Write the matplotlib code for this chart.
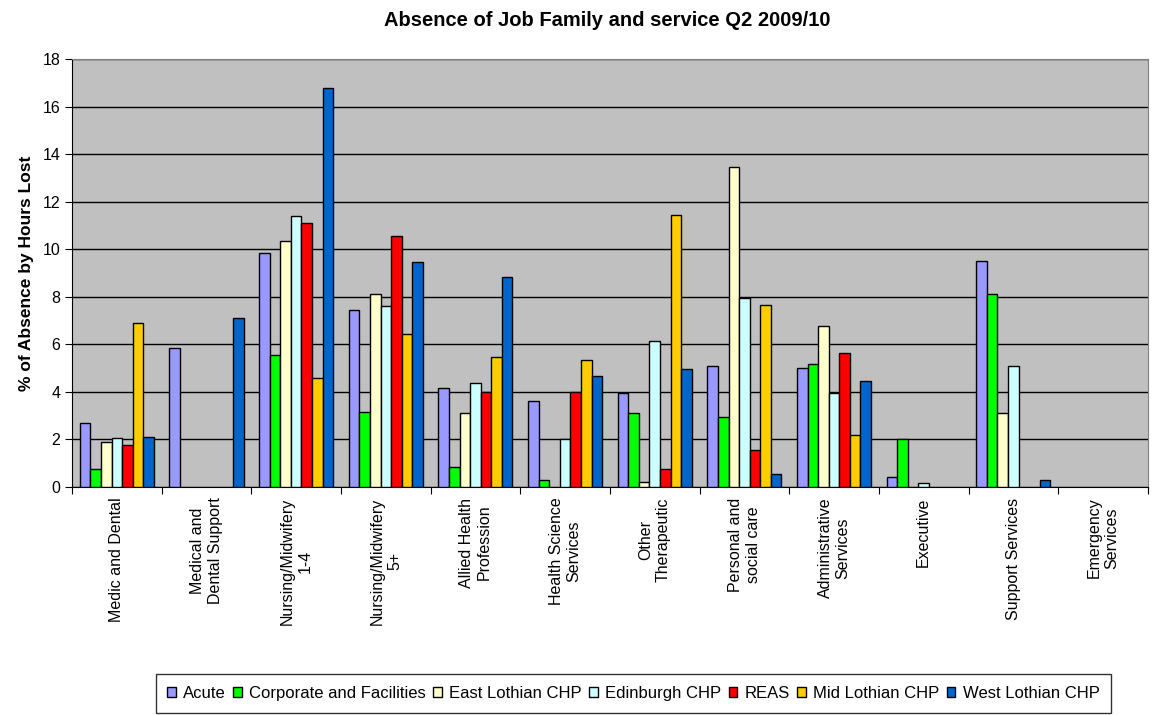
import matplotlib.pyplot as plt
import numpy as np

categories = ["Medic and Dental", "Medical and\nDental Support", "Nursing/Midwifery\n1-4",
              "Nursing/Midwifery\n5+", "Allied Health\nProfession", "Health Science\nServices",
              "Other\nTherapeutic", "Personal and\nsocial care", "Administrative\nServices",
              "Executive", "Support Services", "Emergency\nServices"]

acute = [2.7, 5.85, 9.85, 7.45, 4.15, 3.6, 3.95, 5.1, 5.0, 0.4, 9.5, 0]
corporate = [0.75, 0, 5.55, 3.15, 0.85, 0.3, 3.1, 2.95, 5.15, 2.0, 8.1, 0]
east_lothian = [1.9, 0, 10.35, 8.1, 3.1, 0, 0.2, 13.45, 6.75, 0, 3.1, 0]
edinburgh = [2.05, 0, 11.4, 7.6, 4.35, 2.0, 6.15, 7.95, 3.95, 0.15, 5.1, 0]
reas = [1.75, 0, 11.1, 10.55, 4.0, 4.0, 0.75, 1.55, 5.65, 0, 0, 0]
mid_lothian = [6.9, 0, 4.6, 6.45, 5.45, 5.35, 11.45, 7.65, 2.2, 0, 0, 0]
west_lothian = [2.1, 7.1, 16.8, 9.45, 8.85, 4.65, 4.95, 0.55, 4.45, 0, 0.3, 0]

series = [("Acute", acute, "#9999FF"),
          ("Corporate and Facilities", corporate, "#00FF00"),
          ("East Lothian CHP", east_lothian, "#FFFFCC"),
          ("Edinburgh CHP", edinburgh, "#CCFFFF"),
          ("REAS", reas, "#FF0000"),
          ("Mid Lothian CHP", mid_lothian, "#FFCC00"),
          ("West Lothian CHP", west_lothian, "#0066CC")]

plt.rcParams['font.family'] = ['Liberation Sans', 'DejaVu Sans']

fig = plt.figure(figsize=(11.58, 7.15), dpi=100)
ax = fig.add_axes([0.0622, 0.319, 0.929, 0.5985])
ax.set_facecolor("#C0C0C0")

x = np.arange(len(categories))
w = 0.118
for i, (name, vals, col) in enumerate(series):
    v = np.array(vals, dtype=float)
    mask = v > 0
    ax.bar(x[mask] + (i - 3) * w, v[mask], width=w, color=col,
           edgecolor="black", linewidth=1.0, label=name, zorder=3)

ax.set_xlim(-0.5, len(categories) - 0.5)
ax.set_ylim(0, 18)
ax.set_yticks(range(0, 19, 2))
ax.tick_params(axis='y', labelsize=11.5, length=5, direction='out')
ax.yaxis.grid(True, color="black", linewidth=1.0, zorder=1)

ax.set_xticks(np.arange(len(categories) + 1) - 0.5)
ax.set_xticklabels([])
ax.tick_params(axis='x', length=5, direction='out')
for xi, lab in zip(x, categories):
    ax.text(xi, -0.45, lab, rotation=90, ha='center', va='top', fontsize=11.5,
            multialignment='center')

for s in ["top", "right"]:
    ax.spines[s].set_color("#808080")
ax.spines["left"].set_color("black")
ax.spines["bottom"].set_color("black")

ax.set_ylabel("% of Absence by Hours Lost", fontsize=12.5, fontweight='bold', labelpad=6)
fig.suptitle("Absence of Job Family and service Q2 2009/10", fontsize=14.5,
             fontweight='bold', y=0.985, x=0.524)

leg = fig.legend(loc='upper center', bbox_to_anchor=(0.547, 0.057), ncol=7,
                 fontsize=12, frameon=True, fancybox=False, handlelength=0.5,
                 handleheight=0.5, handletextpad=0.45, columnspacing=0.45,
                 borderpad=0.7, borderaxespad=0)
leg.get_frame().set_edgecolor("black")
leg.get_frame().set_linewidth(1.0)

fig.savefig("out.png", dpi=100)
